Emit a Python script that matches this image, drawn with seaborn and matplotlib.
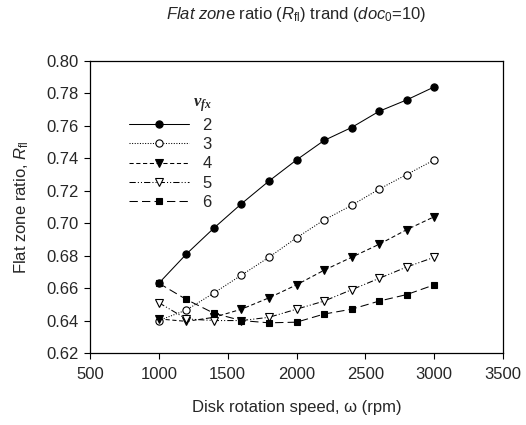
import matplotlib
matplotlib.use("Agg")
import matplotlib.pyplot as plt
import seaborn as sns
import pandas as pd

rpm = [1000, 1200, 1400, 1600, 1800, 2000, 2200, 2400, 2600, 2800, 3000]
vfx_labels = ["2", "3", "4", "5", "6"]
r_v2 = [0.663, 0.681, 0.697, 0.712, 0.726, 0.739, 0.751, 0.759, 0.769, 0.776, 0.784]
r_v3 = [0.640, 0.6465, 0.657, 0.668, 0.679, 0.691, 0.702, 0.711, 0.721, 0.730, 0.739]
r_v4 = [0.641, 0.6395, 0.642, 0.647, 0.654, 0.662, 0.671, 0.679, 0.687, 0.696, 0.704]
r_v5 = [0.651, 0.641, 0.640, 0.640, 0.642, 0.647, 0.652, 0.659, 0.666, 0.673, 0.679]
r_v6 = [0.663, 0.653, 0.6445, 0.640, 0.6386, 0.639, 0.644, 0.647, 0.652, 0.656, 0.662]
series = [r_v2, r_v3, r_v4, r_v5, r_v6]

sns.set_theme(style="ticks")
plt.rcParams["font.family"] = ["Liberation Sans", "DejaVu Sans"]
plt.rcParams["mathtext.fontset"] = "custom"
plt.rcParams["mathtext.it"] = "Liberation Sans:italic"
plt.rcParams["mathtext.rm"] = "Liberation Sans"
plt.rcParams["mathtext.bf"] = "Liberation Serif:italic:bold"

fig = plt.figure(figsize=(5.26, 4.25), dpi=100)
ax = fig.add_axes([90 / 526, 1 - 353 / 425, 413 / 526, 292 / 425])

styles = [
    dict(marker="o", mfc="black", ls="-", ms=5.2),
    dict(marker="o", mfc="white", ls=(0, (1, 1.5)), ms=5.2),
    dict(marker="v", mfc="black", ls=(0, (4, 2.5)), ms=5.5),
    dict(marker="v", mfc="white", ls=(0, (6, 2, 1, 2, 1, 2)), ms=5.5),
    dict(marker="s", mfc="black", ls=(0, (8, 4)), ms=4.5),
]

for lab, vals, st in zip(vfx_labels, series, styles):
    df = pd.DataFrame({"rpm": rpm, "ratio": vals})
    sns.lineplot(data=df, x="rpm", y="ratio", ax=ax, color="black",
                 marker=st["marker"], markerfacecolor=st["mfc"],
                 markeredgecolor="black", markersize=st["ms"], markeredgewidth=0.8,
                 linestyle=st["ls"], linewidth=0.75, label=lab, errorbar=None)

ax.set_xlim(500, 3500)
ax.set_ylim(0.62, 0.80)
ax.set_xticks([500, 1000, 1500, 2000, 2500, 3000, 3500])
ax.set_yticks([0.62, 0.64, 0.66, 0.68, 0.70, 0.72, 0.74, 0.76, 0.78, 0.80])
ax.set_yticklabels([f"{v:.2f}" for v in ax.get_yticks()])
ax.tick_params(axis="both", labelsize=12, length=4, width=0.8, direction="out",
               color="black", pad=4)
ax.tick_params(axis="x", pad=6)
for sp in ax.spines.values():
    sp.set_linewidth(0.9)
    sp.set_color("black")

ax.set_xlabel("Disk rotation speed, \u03c9 (rpm)", fontsize=12, labelpad=13)
ax.set_ylabel(r"Flat zone ratio, $\mathit{R}_{\mathregular{fl}}$", fontsize=12, labelpad=11)

fig.text(296 / 526, 1 - 15 / 425,
         r"$\mathit{Flat\ zon}$e ratio ($\mathit{R}_{\mathregular{fl}}$) trand ($\mathit{doc}_{\mathregular{0}}$=10)",
         ha="center", va="center", fontsize=12)

leg = ax.legend(title=r"$\mathbf{v}_{\mathbf{fx}}$", loc="upper left", bbox_to_anchor=(0.074, 0.915),
                frameon=False, borderpad=0, handlelength=3.6, handletextpad=0.8,
                labelspacing=0.25, fontsize=12, title_fontsize=12, alignment="right")

fig.savefig("out.png", dpi=100)
